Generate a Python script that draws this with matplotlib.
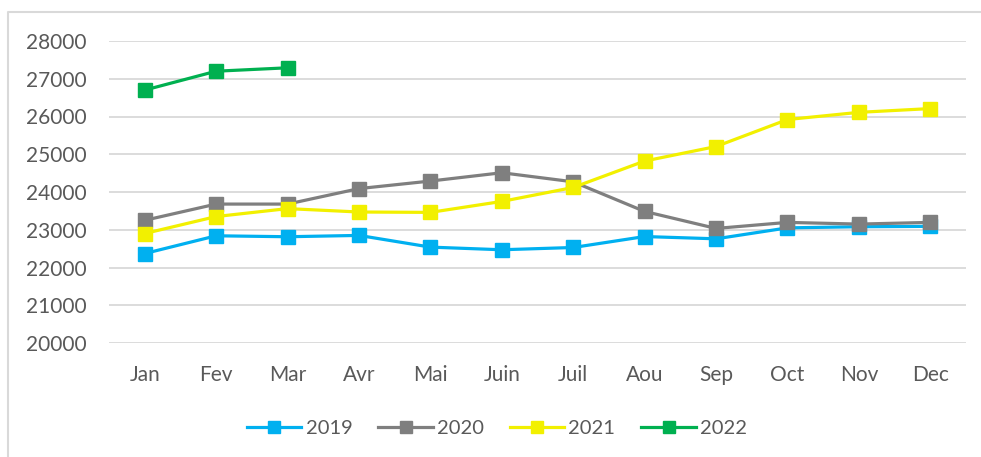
import matplotlib
matplotlib.use("Agg")
import matplotlib.pyplot as plt
from matplotlib.lines import Line2D

months = ["Jan", "Fev", "Mar", "Avr", "Mai", "Juin", "Juil", "Aou", "Sep", "Oct", "Nov", "Dec"]
v2019 = [22370, 22840, 22815, 22850, 22540, 22470, 22530, 22820, 22760, 23050, 23080, 23090]
v2020 = [23250, 23680, 23680, 24090, 24290, 24510, 24270, 23485, 23035, 23195, 23150, 23195]
v2021 = [22900, 23350, 23560, 23470, 23460, 23750, 24120, 24820, 25205, 25920, 26110, 26210]
v2022 = [26700, 27200, 27290]

series = [("2019", v2019, "#00B0F0"),
          ("2020", v2020, "#7F7F7F"),
          ("2021", v2021, "#F2F000"),
          ("2022", v2022, "#00B050")]

text_color = "#595959"
plt.rcParams['font.family'] = ['Lato', 'DejaVu Sans']

fig = plt.figure(figsize=(9.81, 4.57), dpi=100)
# chart area border: only top and left edges show in the crop
fig.add_artist(Line2D([8 / 981, 8 / 981, 1.0], [0.0, 1 - 12 / 457, 1 - 12 / 457],
                      transform=fig.transFigure, color="#D9D9D9", linewidth=1.5))
ax = fig.add_axes([109 / 981, 1 - 343 / 457, 857 / 981, 302 / 457])

x = list(range(len(months)))
for name, vals, color in series:
    ax.plot(x[:len(vals)], vals, color=color, linewidth=2.3, marker="s", markersize=9.5,
            label=name, solid_joinstyle="round")

ax.set_xlim(-0.5, len(months) - 0.5)
ax.set_ylim(20000, 28000)
ax.set_yticks(range(20000, 28001, 1000))
ax.set_xticks(x)
ax.set_xticklabels(months)
ax.grid(axis="y", color="#D9D9D9", linewidth=1.3)
ax.set_axisbelow(True)
for s in ax.spines.values():
    s.set_visible(False)
ax.tick_params(length=0, labelsize=15, labelcolor=text_color)
ax.tick_params(axis="y", pad=16)
ax.tick_params(axis="x", pad=16)

fig.legend(*ax.get_legend_handles_labels(), loc="center", bbox_to_anchor=(497 / 981, 1 - 428 / 457),
           ncol=4, frameon=False, fontsize=14.5, labelcolor=text_color, handlelength=2.7,
           handletextpad=0.2, columnspacing=1.3, markerscale=0.9)

fig.savefig("out.png", dpi=100)
